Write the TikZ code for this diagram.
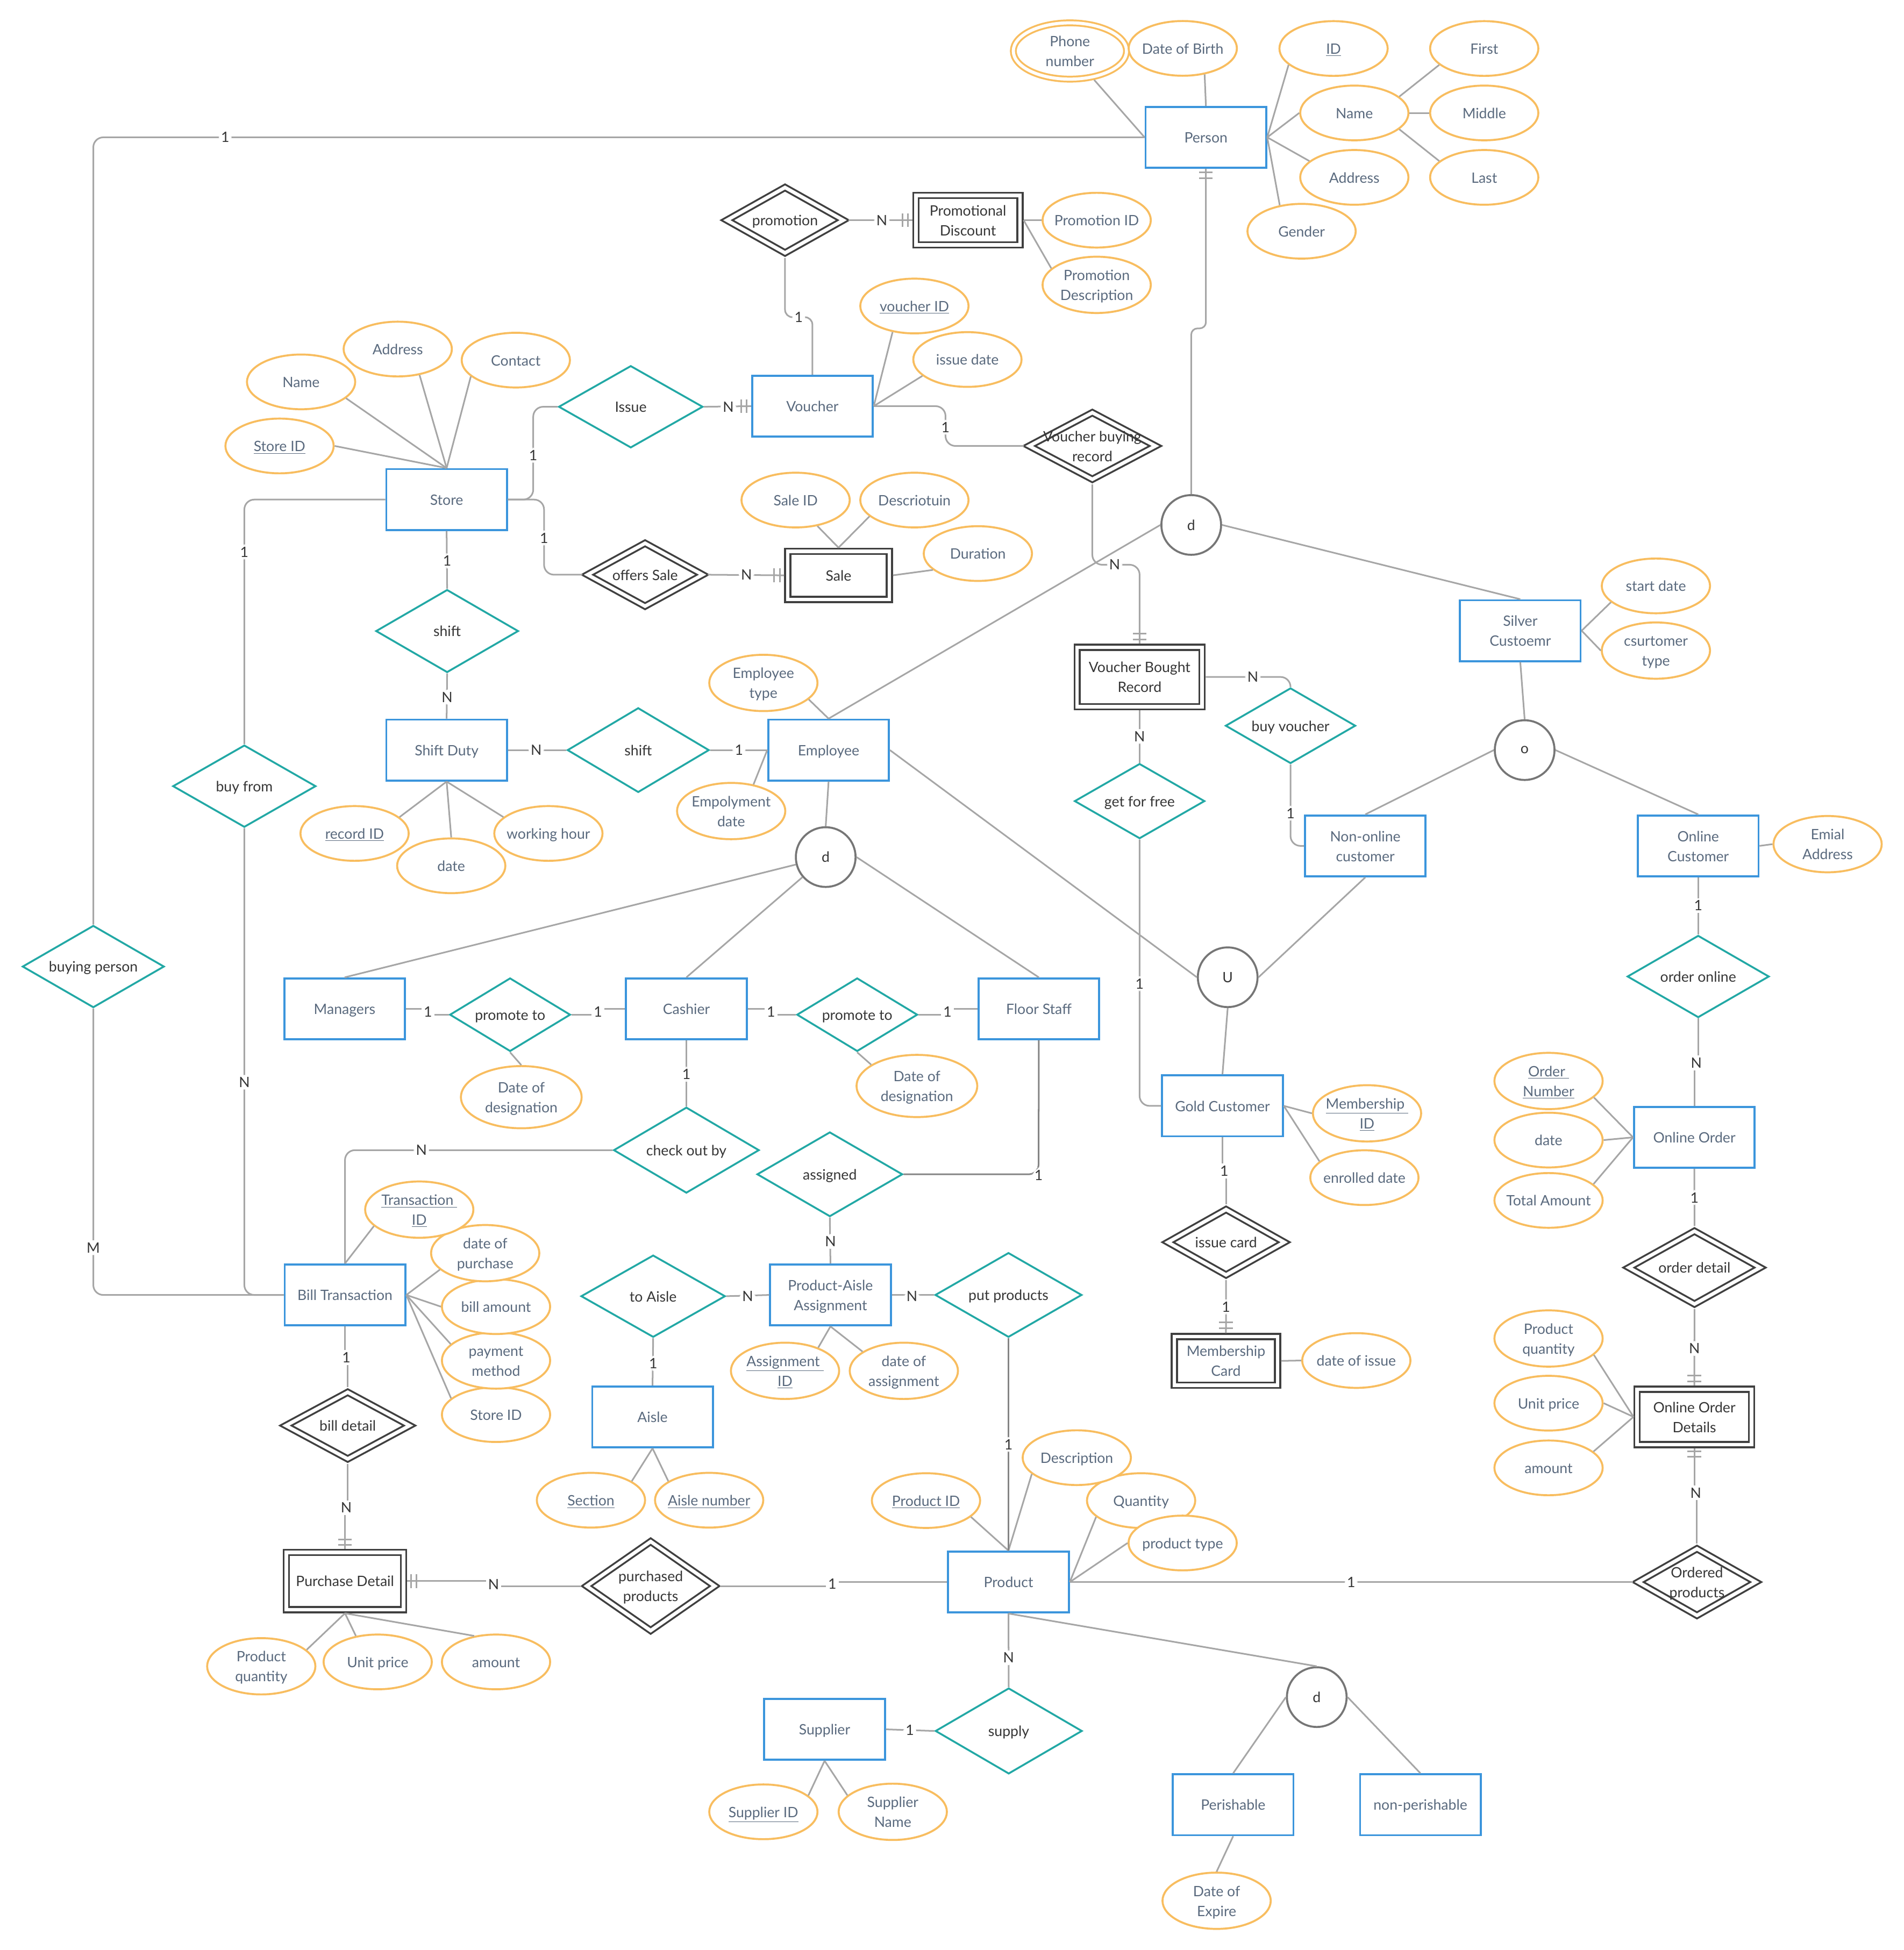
\documentclass[tikz,border=0pt]{standalone}
\usepackage{fontspec}
\setmainfont{Lato}
\usetikzlibrary{shapes.geometric,calc}

\definecolor{entblue}{HTML}{3B95DC}
\definecolor{attrorange}{HTML}{F8BD5F}
\definecolor{relteal}{HTML}{22A8A5}
\definecolor{weakdark}{HTML}{404040}
\definecolor{conngray}{HTML}{A6A6A6}
\definecolor{conndark}{HTML}{858585}
\definecolor{circgray}{HTML}{767676}
\definecolor{slate}{HTML}{5A6A7E}
\definecolor{inkdark}{HTML}{363636}

% centred text block of zero width, so that it never enlarges its shape
\newcommand{\ctr}[1]{\makebox[0pt]{\raisebox{-1.2pt}[\height][\depth]{\begin{tabular}{@{}c@{}}#1\end{tabular}}}}
% "one and only one" bars across a horizontal or a vertical connector
\newcommand{\barv}[2]{\draw[tickmark] ($(#1)+(#2,-5.5)$) -- ++(0,11);}
\newcommand{\barh}[2]{\draw[tickmark] ($(#1)+(-5.5,#2)$) -- ++(11,0);}

\begin{document}
\begin{tikzpicture}[x=1pt,y=-1pt,
  every node/.style={font=\fontsize{11.5}{16}\selectfont},
  ent/.style={rectangle, draw=entblue, line width=1.6pt, fill=white,
    minimum width=97pt, minimum height=49pt, inner sep=0pt, text=slate},
  weakent/.style={rectangle, draw=weakdark, double=white, double distance=2.8pt,
    line width=1.5pt, fill=white, inner sep=0pt, outer sep=2.9pt, text=inkdark},
  attr/.style={ellipse, draw=attrorange, line width=1.6pt, fill=white,
    minimum width=87pt, minimum height=44pt, inner sep=0pt, text=slate},
  multiattr/.style={attr, double=white, double distance=2.5pt, line width=1.5pt, outer sep=2.8pt},
  rel/.style={diamond, draw=relteal, line width=1.5pt, fill=white, inner sep=0pt, text=inkdark},
  weakrel/.style={diamond, draw=weakdark, double=white, double distance=2.8pt,
    line width=1.5pt, fill=white, inner sep=0pt, outer sep=2.9pt, text=inkdark},
  circ/.style={circle, draw=circgray, line width=1.6pt, fill=white,
    minimum size=48pt, inner sep=0pt, text=inkdark},
  sz/.style 2 args={minimum width=#1pt, minimum height=#2pt},
  conn/.style={draw=conngray, line width=1.3pt, rounded corners=8pt},
  connd/.style={conn, draw=conndark},
  tickmark/.style={draw=conngray, line width=1.3pt},
  lbl/.style={fill=white, inner sep=1.8pt, text=inkdark},
]
\fill[white] (0,0) rectangle (1530,1567.6);
\useasboundingbox (0,0) rectangle (1530,1567.6);

% ---------------- entities
\node[ent] (person)  at (969.3,110.4)  {\ctr{Person}};
\node[ent] (vch)     at (653,326.5)    {\ctr{Voucher}};
\node[ent] (store)   at (359,401.6)    {\ctr{Store}};
\node[ent] (sduty)   at (359,603)      {\ctr{Shift Duty}};
\node[ent] (emp)     at (666,603)      {\ctr{Employee}};
\node[ent] (silver)  at (1222,507)     {\ctr{Silver\\Custoemr}};
\node[ent] (nonon)   at (1097.4,680)   {\ctr{Non-online\\customer}};
\node[ent] (onc)     at (1365,680)     {\ctr{Online\\Customer}};
\node[ent] (mgr)     at (277,811)      {\ctr{Managers}};
\node[ent] (cash)    at (551.7,811)    {\ctr{Cashier}};
\node[ent] (floor)   at (835,811)      {\ctr{Floor Staff}};
\node[ent] (gold)    at (982.6,889)    {\ctr{Gold Customer}};
\node[ent] (oo)      at (1361.9,914.3) {\ctr{Online Order}};
\node[ent] (bill)    at (277.3,1041)   {\ctr{Bill Transaction}};
\node[ent] (pa)      at (667.5,1041)   {\ctr{Product-Aisle\\Assignment}};
\node[ent] (aisle)   at (524.5,1139)   {\ctr{Aisle}};
\node[ent] (prod)    at (810.6,1271.8) {\ctr{Product}};
\node[ent] (supp)    at (662.8,1390.2) {\ctr{Supplier}};
\node[ent] (peri)    at (991.2,1450.8) {\ctr{Perishable}};
\node[ent] (nonperi) at (1141.7,1450.8){\ctr{non-perishable}};

% ---------------- weak entities
\node[weakent, sz={83.7}{39.7}] (pdisc) at (778,177)      {\ctr{Promotional\\Discount}};
\node[weakent, sz={81.7}{38.7}] (sale)  at (674,462.5)    {\ctr{Sale}};
\node[weakent, sz={100.4}{47.7}] (vbr)  at (916,544.2)    {\ctr{Voucher Bought\\Record}};
\node[weakent, sz={83}{39}, text=slate] (mcard) at (985.4,1094) {\ctr{Membership\\Card}};
\node[weakent, sz={92}{44.5}] (ood)     at (1361.9,1139)  {\ctr{Online Order\\Details}};
\node[weakent, sz={94.2}{46}] (pdet)    at (277.3,1271)   {\ctr{Purchase Detail}};

% ---------------- relationships
\node[rel, sz={116}{66}]   (issue)   at (507,327)      {\ctr{Issue}};
\node[rel, sz={114.6}{66.6}] (shiftA) at (359.4,507.3) {\ctr{shift}};
\node[rel, sz={114}{68}]   (shiftB)  at (513,603)      {\ctr{shift}};
\node[rel, sz={115}{66}]   (buyfrom) at (196.4,632)    {\ctr{buy from}};
\node[rel, sz={114}{66}]   (buyper)  at (75,777)       {\ctr{buying person}};
\node[rel, sz={104.6}{60.7}] (buyv)  at (1037.3,583.4) {\ctr{buy voucher}};
\node[rel, sz={104.7}{60.3}] (gff)   at (916,644)      {\ctr{get for free}};
\node[rel, sz={114}{66}]   (ordonl)  at (1365,785)     {\ctr{order online}};
\node[rel, sz={97}{59}]    (promL)   at (410,815.7)    {\ctr{promote to}};
\node[rel, sz={97}{59}]    (promR)   at (689,815.7)    {\ctr{promote to}};
\node[rel, sz={117}{69}]   (chk)     at (551.7,924.6)  {\ctr{check out by}};
\node[rel, sz={117}{68}]   (asgd)    at (667,944)      {\ctr{assigned}};
\node[rel, sz={116}{66}]   (toaisle) at (525,1042)     {\ctr{to Aisle}};
\node[rel, sz={118}{68}]   (putp)    at (810.6,1041)   {\ctr{put products}};
\node[rel, sz={118}{69}]   (supply)  at (810.8,1391.5) {\ctr{supply}};

% ---------------- identifying relationships
\node[weakrel, sz={96}{55}]    (promo)  at (631,177)      {\ctr{promotion}};
\node[weakrel, sz={104}{56}]   (vbrel)  at (878,358.5)    {\ctr{Voucher buying\\record}};
\node[weakrel, sz={95}{53}]    (offers) at (518.5,462)    {\ctr{offers Sale}};
\node[weakrel, sz={96}{55}]    (icard)  at (985.5,998.6)  {\ctr{issue card}};
\node[weakrel, sz={108}{61}]   (odet)   at (1362,1019)    {\ctr{order detail}};
\node[weakrel, sz={102}{56}]   (bdet)   at (279.5,1146)   {\ctr{bill detail}};
\node[weakrel, sz={105.4}{74}] (purp)   at (523,1275)     {\ctr{purchased\\products}};
\node[weakrel, sz={97}{56}]    (ordp)   at (1364,1271.8)  {\ctr{Ordered\\products}};

% ---------------- specialisation circles
\node[circ] (dP)    at (957.5,422)    {d};
\node[circ] (circO) at (1225.5,603)   {o};
\node[circ] (dE)    at (663.7,689)    {d};
\node[circ] (circU) at (986.8,785.6)  {U};
\node[circ] (dProd) at (1058.4,1364.3){d};

% ---------------- attributes
\node[multiattr, sz={91}{45}] (phone) at (860,41) {\ctr{Phone\\number}};
\node[attr] (dob)    at (950.7,38.9)  {\ctr{Date of Birth}};
\node[attr] (pid)    at (1071.9,39)   {\ctr{\underline{ID}}};
\node[attr] (first)  at (1193,39)     {\ctr{First}};
\node[attr] (pname)  at (1088.6,90.8) {\ctr{Name}};
\node[attr] (middle) at (1193,90.8)   {\ctr{Middle}};
\node[attr] (paddr)  at (1088.6,142.6){\ctr{Address}};
\node[attr] (last)   at (1193,142.6)  {\ctr{Last}};
\node[attr] (gender) at (1046.2,185.9){\ctr{Gender}};
\node[attr] (promid)   at (881.5,177) {\ctr{Promotion ID}};
\node[attr] (promdesc) at (881.5,229) {\ctr{Promotion\\Description}};
\node[attr] (vid)    at (735,246)     {\ctr{\underline{voucher ID}}};
\node[attr] (idate)  at (777.6,289)   {\ctr{issue date}};
\node[attr] (sname)  at (242,307)     {\ctr{Name}};
\node[attr] (saddr)  at (319.7,280.6) {\ctr{Address}};
\node[attr] (scont)  at (414.6,289.5) {\ctr{Contact}};
\node[attr] (sid)    at (224.7,358.5) {\ctr{\underline{Store ID}}};
\node[attr] (saleid) at (639.5,402)   {\ctr{Sale ID}};
\node[attr] (saledesc) at (735,402)   {\ctr{Descriotuin}};
\node[attr] (dur)    at (786,445)     {\ctr{Duration}};
\node[attr] (sdate)  at (1331,471)    {\ctr{start date}};
\node[attr] (ctype)  at (1331,523)    {\ctr{csurtomer\\type}};
\node[attr] (etype)  at (613.6,549)   {\ctr{Employee\\type}};
\node[attr] (edate)  at (587.7,652)   {\ctr{Empolyment\\date}};
\node[attr] (recid)  at (285,670)     {\ctr{\underline{record ID}}};
\node[attr] (whour)  at (440.8,670)   {\ctr{working hour}};
\node[attr] (sddate) at (362.7,696)   {\ctr{date}};
\node[attr] (email)  at (1469,678.6)  {\ctr{Emial\\Address}};
\node[attr, sz={97}{50}] (dodL) at (419,882) {\ctr{Date of\\designation}};
\node[attr, sz={97}{50}] (dodR) at (737,873) {\ctr{Date of\\designation}};
\node[attr] (memid)  at (1098.8,895)  {\ctr{\underline{Membership~}\\\underline{ID}}};
\node[attr] (enrd)   at (1096.7,946.7){\ctr{enrolled date}};
\node[attr] (ordnum) at (1244.7,869)  {\ctr{\underline{Order~}\\\underline{Number}}};
\node[attr] (oodate) at (1244.7,916.5){\ctr{date}};
\node[attr] (total)  at (1244.7,965)  {\ctr{Total Amount}};
\node[attr] (bsid)   at (398.7,1137.2){\ctr{Store ID}};
\node[attr] (pmeth)  at (398.7,1093.7){\ctr{payment\\method}};
\node[attr] (bamt)   at (398.7,1050.4){\ctr{bill amount}};
\node[attr] (dpur)   at (390,1007.4)  {\ctr{date of\\purchase}};
\node[attr] (tid)    at (337,972.4)   {\ctr{\underline{Transaction~}\\\underline{ID}}};
\node[attr] (asgid)  at (631,1102)    {\ctr{\underline{Assignment~}\\\underline{ID}}};
\node[attr] (dasg)   at (726.5,1102)  {\ctr{date of\\assignment}};
\node[attr] (doi)    at (1090.2,1093.7){\ctr{date of issue}};
\node[attr] (opq)    at (1244.7,1076) {\ctr{Product\\quantity}};
\node[attr] (oup)    at (1244.7,1128) {\ctr{Unit price}};
\node[attr] (oamt)   at (1244.7,1180) {\ctr{amount}};
\node[attr] (section) at (475,1206)   {\ctr{\underline{Section}}};
\node[attr] (aislenum) at (570,1206)  {\ctr{\underline{Aisle number}}};
\node[attr] (qty)    at (917.2,1206.3){\ctr{Quantity}};
\node[attr] (pdesc)  at (865.5,1171.8){\ctr{Description}};
\node[attr] (ptype)  at (950.6,1240.4){\ctr{product type}};
\node[attr] (prodid) at (744.3,1206.3){\ctr{\underline{Product ID}}};
\node[attr] (dpq)    at (210,1339.5)  {\ctr{Product\\quantity}};
\node[attr] (dup)    at (303.6,1336)  {\ctr{Unit price}};
\node[attr] (damt)   at (398.7,1336)  {\ctr{amount}};
\node[attr] (supid)  at (613.6,1456.5){\ctr{\underline{Supplier ID}}};
\node[attr] (supname) at (717.6,1456.5){\ctr{Supplier\\Name}};
\node[attr] (expire) at (977.9,1528)  {\ctr{Date of\\Expire}};

% ---------------- attribute links
\draw[conn] (phone.-50) -- (person.west);
\draw[conn] (dob.-50) -- (person.north);
\draw[conn] (pid.200) -- (person.east);
\draw[conn] (pname.west) -- (person.east);
\draw[conn] (paddr.160) -- (person.east);
\draw[conn] (gender.130) -- (person.east);
\draw[conn] (first.200) -- (pname.20);
\draw[conn] (middle.west) -- (pname.east);
\draw[conn] (last.160) -- (pname.-20);
\draw[conn] (promid.west) -- (pdisc.east);
\draw[conn] (promdesc.160) -- (pdisc.east);
\draw[conn] (vid.230) -- (vch.east);
\draw[conn] (idate.200) -- (vch.east);
\draw[conn] (sname.-20) -- (store.north);
\draw[conn] (saddr.-50) -- (store.north);
\draw[conn] (scont.200) -- (store.north);
\draw[conn] (sid.east) -- (store.north);
\draw[conn] (saleid.-50) -- (sale.north);
\draw[conn] (saledesc.200) -- (sale.north);
\draw[conn] (dur.200) -- (sale.east);
\draw[conn] (sdate.200) -- (silver.east);
\draw[conn] (ctype.west) -- (silver.east);
\draw[conn] (etype.-20) -- (emp.north);
\draw[conn] (edate.50) -- (emp.west);
\draw[conn] (recid.20) -- (sduty.south);
\draw[conn] (sddate.north) -- (sduty.south);
\draw[conn] (whour.160) -- (sduty.south);
\draw[conn] (email.west) -- (onc.east);
\draw[conn] (dodL.north) -- (promL.south);
\draw[conn] (dodR.155) -- (promR.south);
\draw[conn] (memid.west) -- (gold.east);
\draw[conn] (enrd.160) -- (gold.east);
\draw[conn] (ordnum.-20) -- (oo.west);
\draw[conn] (oodate.east) -- (oo.west);
\draw[conn] (total.20) -- (oo.west);
\draw[conn] (tid.200) -- (bill.north);
\draw[conn] (dpur.200) -- (bill.east);
\draw[conn] (bamt.west) -- (bill.east);
\draw[conn] (pmeth.160) -- (bill.east);
\draw[conn] (bsid.160) -- (bill.east);
\draw[conn] (asgid.35) -- (pa.south);
\draw[conn] (dasg.155) -- (pa.south);
\draw[conn] (doi.west) -- (mcard.east);
\draw[conn] (opq.-20) -- (ood.west);
\draw[conn] (oup.east) -- (ood.west);
\draw[conn] (oamt.20) -- (ood.west);
\draw[conn] (section.25) -- (aisle.south);
\draw[conn] (aislenum.155) -- (aisle.south);
\draw[conn] (pdesc.200) -- (prod.north);
\draw[conn] (prodid.-20) -- (prod.north);
\draw[conn] (qty.200) -- (prod.east);
\draw[conn] (ptype.west) -- (prod.east);
\draw[conn] (dpq.20) -- (pdet.south);
\draw[conn] (dup.130) -- (pdet.south);
\draw[conn] (damt.130) -- (pdet.south);
\draw[conn] (supid.20) -- (supp.south);
\draw[conn] (supname.160) -- (supp.south);
\draw[conn] (expire.north) -- (peri.south);

% ---------------- specialisation links
\draw[conn, rounded corners=5pt] (person.south) -- (969.3,264) -- (957.5,264) -- (dP.north);
\barh{person.south}{3}\barh{person.south}{7.5}
\draw[conn] (dP.west) -- (emp.north);
\draw[conn] (dP.east) -- (silver.north);
\draw[conn] (silver.south) -- (circO.north);
\draw[conn] (circO.west) -- (nonon.north);
\draw[conn] (circO.east) -- (onc.north);
\draw[conn] (nonon.south) -- (circU.east);
\draw[conn] (emp.east) -- (circU.west);
\draw[conn] (circU.south) -- (gold.north);
\draw[conn] (emp.south) -- (dE.north);
\draw[conn] (dE) -- (mgr.north);
\draw[conn] (dE) -- (cash.north);
\draw[conn] (dE.east) -- (floor.north);
\draw[conn] (prod.south) -- (dProd.north);
\draw[conn] (dProd.west) -- (peri.north);
\draw[conn] (dProd.east) -- (nonperi.north);

% ---------------- relationship links
\draw[conn] (person.west) -- (75,110.4) -- (buyper.north) node[lbl] at (181,110.4) {1};
\draw[conn] (buyper.south) -- (75,1041) -- (bill.west) node[lbl] at (75,1003) {M};
\draw[conn] (store.west) -- (196.4,401.6) -- (buyfrom.north) node[lbl] at (196.4,443.7) {1};
\draw[conn] (buyfrom.south) -- (196.4,1041) -- (bill.west) node[lbl] at (196.4,870) {N};

\draw[conn] (promo.east) -- (pdisc.west) node[lbl] at (708.8,177) {N};
\barv{pdisc.west}{-3.5}\barv{pdisc.west}{-8}
\draw[conn, rounded corners=6pt] (promo.south) -- (631,255) -- (653,255) -- (vch.north) node[lbl] at (642,255) {1};
\draw[conn] (issue.east) -- (vch.west) node[lbl] at (585.4,327) {N};
\barv{vch.west}{-3.5}\barv{vch.west}{-8}
\draw[conn] (store.east) -- (428.6,401.6) -- (428.6,327) -- (issue.west) node[lbl] at (428.6,366) {1};
\draw[conn] (store.east) -- (437.3,401.6) -- (437.3,462) -- (offers.west) node[lbl] at (437.3,432.5) {1};
\draw[conn] (offers.east) -- (sale.west) node[lbl] at (600,462) {N};
\barv{sale.west}{-3.5}\barv{sale.west}{-8}
\draw[conn] (vch.east) -- (760,326.5) -- (760,358.5) -- (vbrel.west) node[lbl] at (760,343.5) {1};
\draw[conn] (vbrel.south) -- (878,454) -- (916,454) -- (vbr.north) node[lbl] at (896,454) {N};
\barh{vbr.north}{-3.5}\barh{vbr.north}{-8}
\draw[conn] (vbr.east) -- (1037.3,544.2) -- (buyv.north) node[lbl] at (1007,544.2) {N};
\draw[conn] (buyv.south) -- (1037.3,680) -- (nonon.west) node[lbl] at (1037.3,653.7) {1};
\draw[conn] (vbr.south) -- (gff.north) node[lbl] at (916,592) {N};
\draw[conn] (gff.south) -- (916,889) -- (gold.west) node[lbl] at (916,790.8) {1};

\draw[conn] (store.south) -- (shiftA.north) node[lbl] at (359.4,450.8) {1};
\draw[conn] (shiftA.south) -- (sduty.north) node[lbl] at (359.4,560.4) {N};
\draw[conn] (sduty.east) -- (shiftB.west) node[lbl] at (431,603) {N};
\draw[conn] (shiftB.east) -- (emp.west) node[lbl] at (594,603) {1};

\draw[conn, sharp corners] (mgr.east) -- (344,811) -- (344,815.7) -- (promL.west) node[lbl] at (344,813.3) {1};
\draw[conn, sharp corners] (promL.east) -- (480.6,815.7) -- (480.6,811) -- (cash.west) node[lbl] at (480.6,813.3) {1};
\draw[conn, sharp corners] (cash.east) -- (619.7,811) -- (619.7,815.7) -- (promR.west) node[lbl] at (619.7,813.3) {1};
\draw[conn, sharp corners] (promR.east) -- (761.6,815.7) -- (761.6,811) -- (floor.west) node[lbl] at (761.6,813.3) {1};

\draw[conn] (cash.south) -- (chk.north) node[lbl] at (551.7,863.6) {1};
\draw[conn] (chk.west) -- (277.3,924.6) -- (bill.north) node[lbl] at (338.7,924.6) {N};
\draw[connd] (floor.south) -- (834.8,944) -- (asgd.east) node[lbl] at (834.8,944.7) {1};
\draw[conn] (asgd.south) -- (pa.north) node[lbl] at (667.5,998) {N};
\draw[conn] (toaisle.east) -- (pa.west) node[lbl] at (601,1042) {N};
\draw[conn] (toaisle.south) -- (aisle.north) node[lbl] at (525,1096) {1};
\draw[conn] (pa.east) -- (putp.west) node[lbl] at (733,1042) {N};
\draw[connd] (putp.south) -- (prod.north) node[lbl] at (810.6,1161.2) {1};

\draw[conn, sharp corners] (gold.south) -- (982.6,941.4) -- (985.5,941.4) -- (icard.north) node[lbl] at (984,941.4) {1};
\draw[conn] (icard.south) -- (mcard.north) node[lbl] at (985.4,1050.6) {1};
\barh{mcard.north}{-4}\barh{mcard.north}{-8.5}

\draw[conn, sharp corners] (onc.south) -- (ordonl.north) node[lbl] at (1365,728) {1};
\draw[conn, sharp corners] (ordonl.south) -- (1365,854.5) -- (1361.9,854.5) -- (oo.north) node[lbl] at (1363.5,854.5) {N};
\draw[conn] (oo.south) -- (odet.north) node[lbl] at (1362,962.7) {1};
\draw[conn] (odet.south) -- (ood.north) node[lbl] at (1362,1084) {N};
\barh{ood.north}{-3.5}\barh{ood.north}{-8}
\draw[conn, sharp corners] (ood.south) -- (1361.9,1200) -- (1364,1200) -- (ordp.north) node[lbl] at (1363,1200) {N};
\barh{ood.south}{2.5}\barh{ood.south}{7}
\draw[conn] (prod.east) -- (ordp.west) node[lbl] at (1086,1271.8) {1};

\draw[conn, sharp corners] (purp.east) -- (669,1275) -- (669,1271.8) -- (prod.west) node[lbl] at (669,1273.4) {1};
\draw[conn, sharp corners] (pdet.east) -- (396.8,1271) -- (396.8,1275) -- (purp.west) node[lbl] at (396.8,1273.5) {N};
\barv{pdet.east}{3}\barv{pdet.east}{7.5}
\draw[conn, sharp corners] (bill.south) -- (277.3,1091.3) -- (279.5,1091.3) -- (bdet.north) node[lbl] at (278.4,1091.3) {1};
\draw[conn, sharp corners] (bdet.south) -- (279.5,1212) -- (277.3,1212) -- (pdet.north) node[lbl] at (278.4,1212) {N};
\barh{pdet.north}{-3}\barh{pdet.north}{-7.5}

\draw[conn] (prod.south) -- (supply.north) node[lbl] at (810.7,1332.6) {N};
\draw[conn] (supp.east) -- (supply.west) node[lbl] at (731.3,1391) {1};
\end{tikzpicture}
\end{document}
